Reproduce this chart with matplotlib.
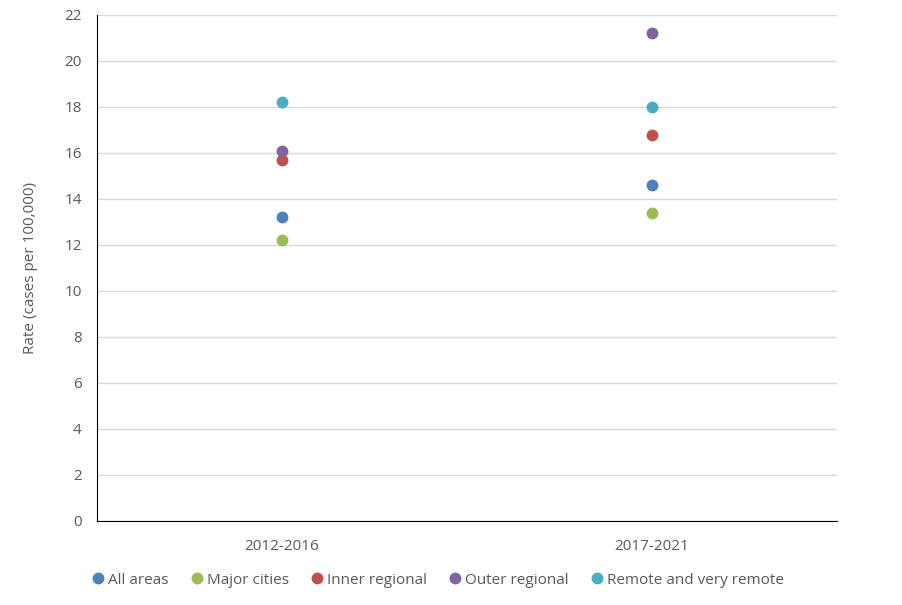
import matplotlib
matplotlib.use("Agg")
import matplotlib.pyplot as plt

categories = ["2012-2016", "2017-2021"]
series_names = ["All areas", "Major cities", "Inner regional", "Outer regional", "Remote and very remote"]
all_areas = [13.2, 14.6]
major_cities = [12.2, 13.4]
inner_regional = [15.7, 16.8]
outer_regional = [16.1, 21.2]
remote = [18.2, 18.0]
colors = ["#4F81BD", "#9BBB59", "#C0504D", "#8064A2", "#4BACC6"]
y_ticks = list(range(0, 23, 2))

plt.rcParams['font.family'] = ['Open Sans', 'DejaVu Sans']
text_color = "#595959"
fs = 11

fig = plt.figure(figsize=(9.02, 6.05), dpi=100)
ax = fig.add_axes([97/902, 84/605, 740/902, 506/605])

xs = list(range(len(categories)))
for name, vals, c in zip(series_names,
                         [all_areas, major_cities, inner_regional, outer_regional, remote],
                         colors):
    ax.plot(xs, vals, linestyle="none", marker="o", markersize=7.5, color=c,
            label=name, zorder=3)

ax.set_xlim(-0.5, 1.5)
ax.set_ylim(0, 22)
ax.set_yticks(y_ticks)
ax.set_xticks(xs)
ax.set_xticklabels(categories)
ax.grid(axis="y", color="#D9D9D9", linewidth=1)
ax.set_axisbelow(True)
for s in ["top", "right"]:
    ax.spines[s].set_visible(False)
ax.spines["left"].set_color("black")
ax.spines["bottom"].set_color("black")
ax.tick_params(axis="both", length=0, labelsize=fs, colors=text_color)
ax.tick_params(axis="y", pad=11)
ax.tick_params(axis="x", pad=13)
ax.set_ylabel("Rate (cases per 100,000)", fontsize=fs, color=text_color, labelpad=19)

fig.legend(loc="center", bbox_to_anchor=(437/902, 1 - 580/605), ncol=5, frameon=False,
           fontsize=fs, labelcolor=text_color, handletextpad=0.15, columnspacing=1.35,
           markerscale=1.0, handlelength=1.0)

fig.savefig("out.png", dpi=100)
